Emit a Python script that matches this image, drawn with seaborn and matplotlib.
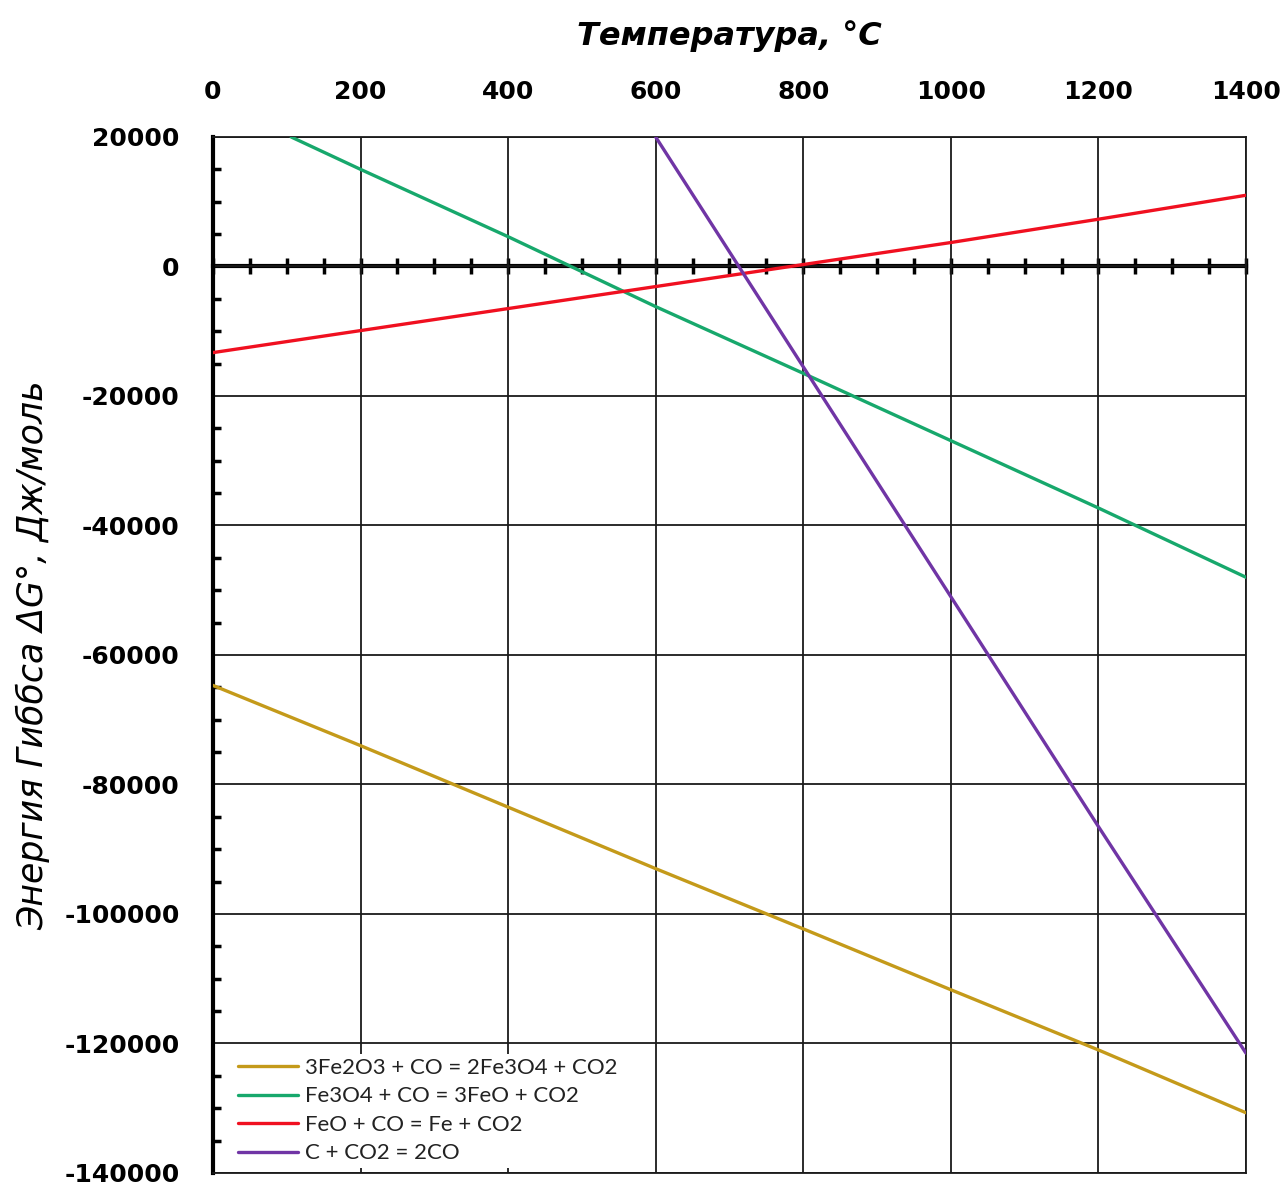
import pandas as pd
import matplotlib.pyplot as plt
import seaborn as sns
from matplotlib.ticker import MultipleLocator

# Data (temperature, degC -> Gibbs energy, J/mol)
t_fe2o3 = [0, 200, 400, 600, 800, 1000, 1200, 1400]
g_fe2o3 = [-64700, -74000, -83500, -93000, -102300, -111700, -121000, -130700]

t_fe3o4 = [106, 200, 400, 600, 800, 1000, 1200, 1400]
g_fe3o4 = [20000, 15000, 4600, -6200, -16500, -26900, -37300, -48000]

t_feo = [0, 200, 400, 600, 800, 1000, 1200, 1400]
g_feo = [-13300, -9900, -6500, -3100, 300, 3700, 7300, 11000]

t_c = [600, 800, 1000, 1200, 1400]
g_c = [20000, -15500, -51000, -86500, -121500]

labels = ["3Fe2O3 + CO = 2Fe3O4 + CO2", "Fe3O4 + CO = 3FeO + CO2",
          "FeO + CO = Fe + CO2", "C + CO2 = 2CO"]
colors = ["#C49A1A", "#17A86C", "#F01020", "#7035A5"]

x_ticks = [0, 200, 400, 600, 800, 1000, 1200, 1400]
y_ticks = [20000, 0, -20000, -40000, -60000, -80000, -100000, -120000, -140000]

frames = []
for lab, t, g in zip(labels, [t_fe2o3, t_fe3o4, t_feo, t_c],
                     [g_fe2o3, g_fe3o4, g_feo, g_c]):
    frames.append(pd.DataFrame({"T": t, "G": g, "reaction": lab}))
df = pd.concat(frames, ignore_index=True)

sns.set_theme(style="white")
plt.rcParams["font.family"] = ["DejaVu Sans"]

fig = plt.figure(figsize=(12.86, 11.87), dpi=100)
ax = fig.add_axes([0.1656, 0.0118, 0.9689 - 0.1656, 0.8846 - 0.0118])

sns.lineplot(data=df, x="T", y="G", hue="reaction", hue_order=labels,
             palette=dict(zip(labels, colors)), estimator=None, sort=False,
             linewidth=2.4, ax=ax, zorder=3)

ax.set_xlim(0, 1400)
ax.set_ylim(-140000, 20000)
ax.set_xticks(x_ticks)
ax.set_yticks(y_ticks)
ax.set_yticklabels([str(v) for v in y_ticks])
ax.xaxis.tick_top()
ax.xaxis.set_label_position("top")
ax.tick_params(axis="x", length=0, pad=24, labelsize=18, labelcolor="black")
ax.tick_params(axis="y", which="major", length=0, pad=24, labelsize=18,
               labelcolor="black")
ax.yaxis.set_minor_locator(MultipleLocator(5000))
ax.tick_params(axis="y", which="minor", direction="in", length=5.5, width=2.5,
               color="black", left=True)
for lab in ax.get_xticklabels() + ax.get_yticklabels():
    lab.set_fontweight("bold")

ax.grid(True, which="major", color="#1a1a1a", linewidth=1.3)
for side in ["top", "right", "bottom"]:
    ax.spines[side].set_color("#1a1a1a")
    ax.spines[side].set_linewidth(1.3)
ax.spines["left"].set_color("black")
ax.spines["left"].set_linewidth(3)

# zero line with crossing ticks every 50 degC
zero_ax = ax.secondary_xaxis(20000 / 160000 * 7)
zero_ax.spines["top"].set_linewidth(3)
zero_ax.spines["top"].set_color("black")
zero_ax.xaxis.set_major_locator(MultipleLocator(50))
zero_ax.tick_params(axis="x", direction="inout", length=12, width=2.5,
                    color="black", labeltop=False, labelbottom=False)

ax.set_xlabel("Температура, °C", fontsize=23, fontweight="bold",
              fontstyle="italic", labelpad=25, color="black")
ax.set_ylabel("Энергия Гиббса ΔG°, Дж/моль", fontsize=25,
              fontstyle="italic", labelpad=10, color="black")

leg = ax.legend(loc="lower left", bbox_to_anchor=(0.0, 0.0), frameon=True,
                fontsize=16, handlelength=2.7, handletextpad=0.3,
                labelspacing=0.38, borderpad=0.2, borderaxespad=0.0)
leg.get_frame().set_facecolor("white")
leg.get_frame().set_edgecolor("none")
leg.get_frame().set_alpha(1)
leg.set_zorder(5)
leg.set_bbox_to_anchor((0.02, 0.005), transform=ax.transAxes)
for t in leg.get_texts():
    t.set_fontfamily(["Lato", "DejaVu Sans"])
    t.set_color("#222222")

fig.savefig("out.png", dpi=100)
